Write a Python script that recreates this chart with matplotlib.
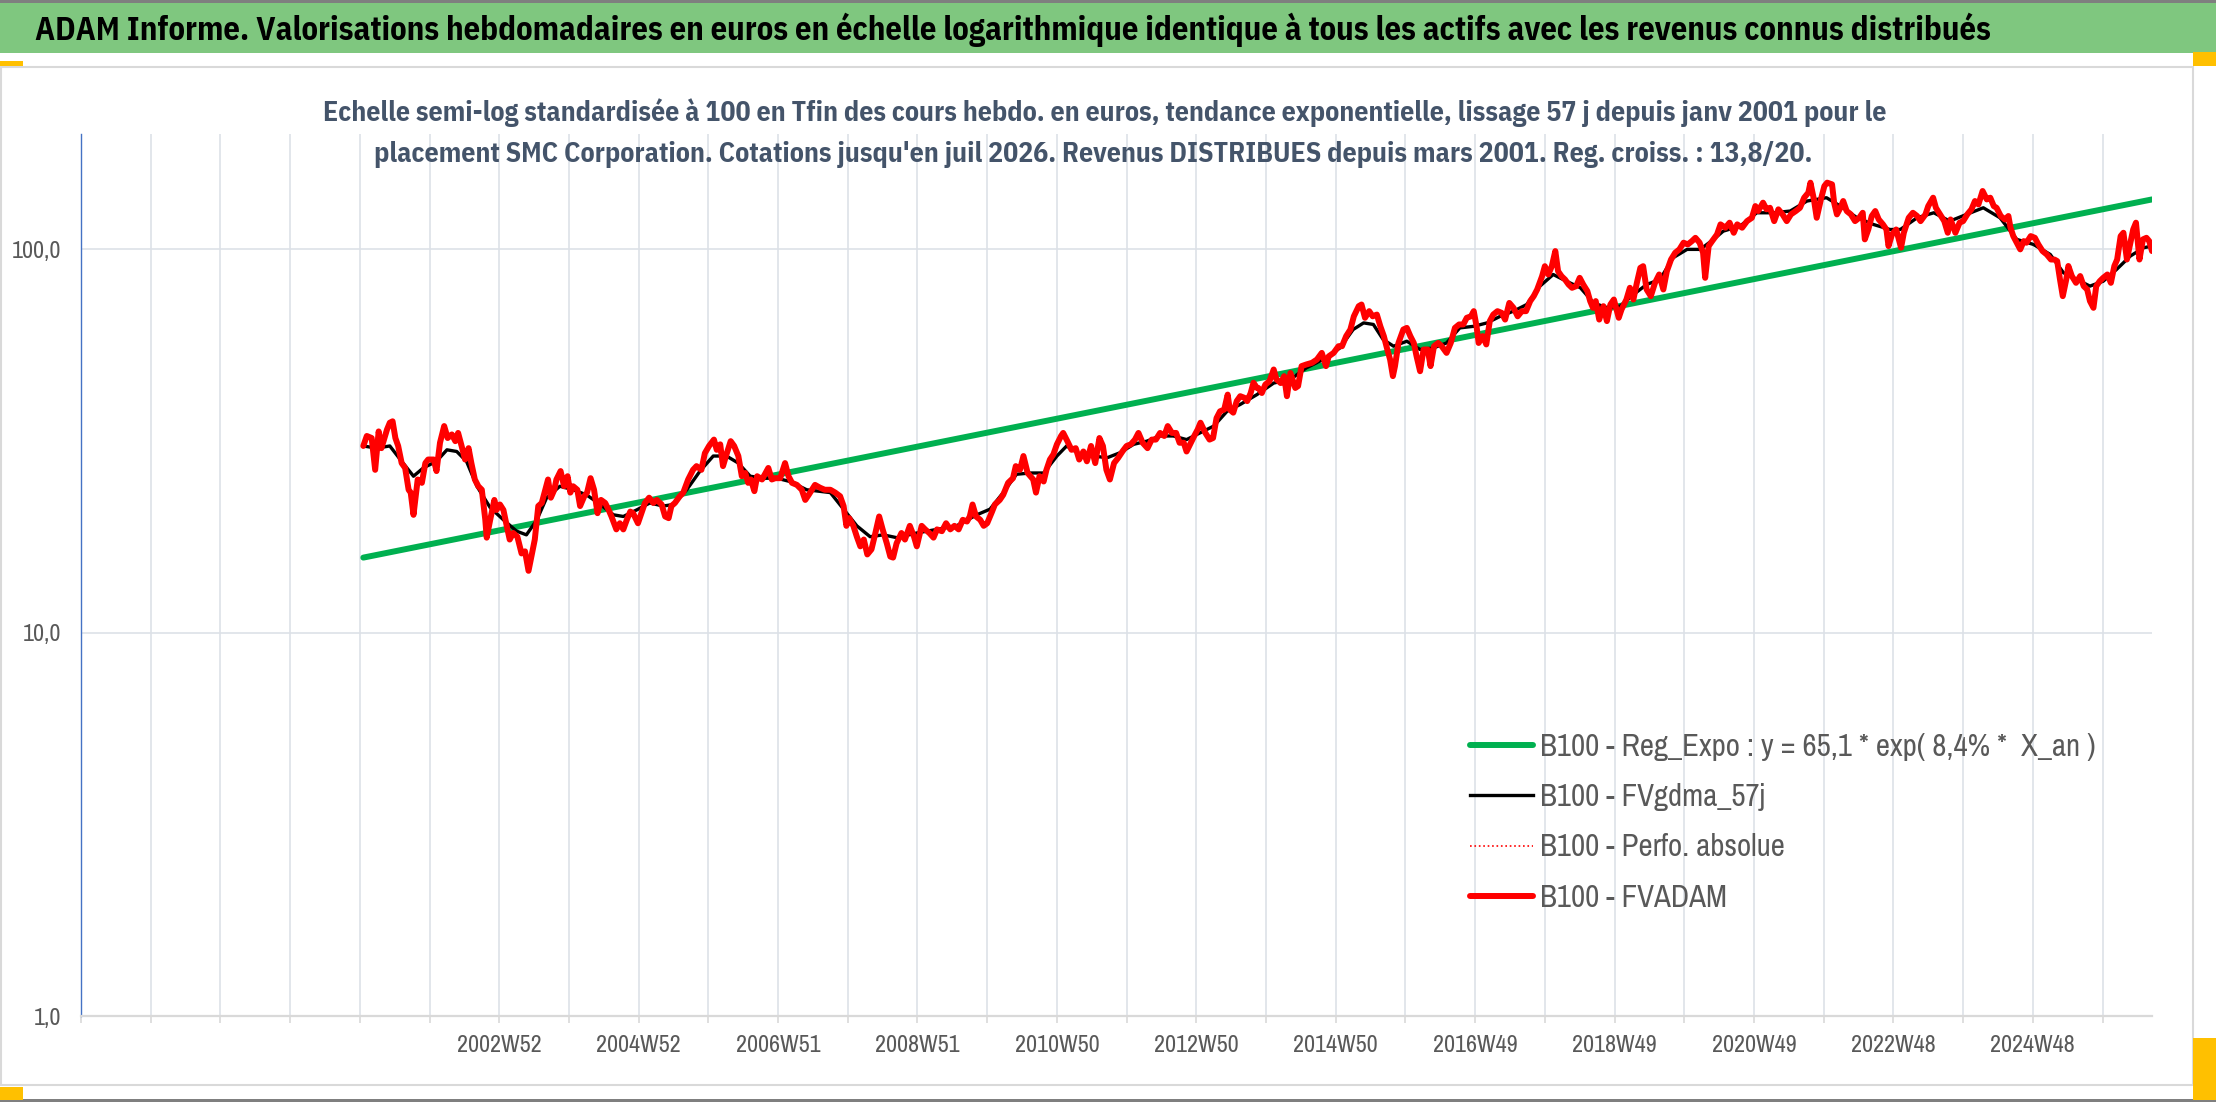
import matplotlib
matplotlib.use("Agg")
import matplotlib.pyplot as plt
import matplotlib.font_manager as fm
from matplotlib.font_manager import FontProperties
from matplotlib.patches import Rectangle
from matplotlib.ticker import FixedLocator, NullLocator

# ---------------- textes ----------------
titre = ("ADAM Informe. Valorisations hebdomadaires en euros en échelle logarithmique "
         "identique à tous les actifs avec les revenus connus distribués")
sous_titre_1 = ("Echelle semi-log standardisée à 100 en Tfin des cours hebdo. en euros, tendance "
                "exponentielle, lissage 57 j depuis janv 2001 pour le")
sous_titre_2 = ("placement SMC Corporation. Cotations jusqu'en juil 2026. Revenus DISTRIBUES "
                "depuis mars 2001. Reg. croiss. : 13,8/20.")
noms_series = ["B100 - Reg_Expo : y = 65,1 * exp( 8,4% *  X_an )",
               "B100 - FVgdma_57j",
               "B100 - Perfo. absolue",
               "B100 - FVADAM"]

# ---------------- axes ----------------
annees_grille = list(range(1997, 2027))
annees_etiq = [2003, 2005, 2007, 2009, 2011, 2013, 2015, 2017, 2019, 2021, 2023, 2025]
etiq_semaines = ['2002W52', '2004W52', '2006W51', '2008W51', '2010W50', '2012W50',
                 '2014W50', '2016W49', '2018W49', '2020W49', '2022W48', '2024W48']
annee_debut, annee_fin = 1997, 2026.71
y_valeurs = [1, 10, 100]
y_etiq = ['1,0', '10,0', '100,0']
y_max = 200

# ---------------- données ----------------
# régression exponentielle : début et fin
reg_annees = [2001.05, 2026.71]
reg_b100 = [15.7, 135.0]

# FVADAM (hebdo, base 100)
fvadam_annees = [
    2001.05, 2001.10, 2001.17, 2001.22, 2001.27, 2001.31, 2001.39, 2001.43, 2001.47, 2001.51,
    2001.55, 2001.60, 2001.65, 2001.70, 2001.73, 2001.77, 2001.83, 2001.89, 2001.94, 2001.98,
    2002.06, 2002.10, 2002.15, 2002.21, 2002.26, 2002.32, 2002.37, 2002.41, 2002.46, 2002.51,
    2002.56, 2002.60, 2002.65, 2002.70, 2002.75, 2002.80, 2002.82, 2002.87, 2002.93, 2002.96,
    2003.01, 2003.06, 2003.11, 2003.15, 2003.20, 2003.26, 2003.32, 2003.37, 2003.42, 2003.47,
    2003.51, 2003.56, 2003.61, 2003.66, 2003.70, 2003.74, 2003.79, 2003.82, 2003.88, 2003.93,
    2003.98, 2004.02, 2004.06, 2004.12, 2004.16, 2004.22, 2004.26, 2004.31, 2004.36, 2004.41,
    2004.46, 2004.52, 2004.57, 2004.61, 2004.68, 2004.73, 2004.78, 2004.83, 2004.88, 2004.92,
    2004.99, 2005.04, 2005.09, 2005.15, 2005.21, 2005.26, 2005.33, 2005.38, 2005.43, 2005.47,
    2005.52, 2005.59, 2005.64, 2005.71, 2005.78, 2005.83, 2005.90, 2005.95, 2006.01, 2006.08,
    2006.12, 2006.17, 2006.21, 2006.26, 2006.32, 2006.37, 2006.43, 2006.48, 2006.53, 2006.57,
    2006.61, 2006.66, 2006.70, 2006.77, 2006.81, 2006.86, 2006.91, 2006.96, 2007.03, 2007.10,
    2007.15, 2007.20, 2007.27, 2007.34, 2007.39, 2007.44,
    2007.53, 2007.60, 2007.67, 2007.75, 2007.82, 2007.89, 2007.94, 2007.98, 2008.02, 2008.08,
    2008.13, 2008.18, 2008.23, 2008.28, 2008.34, 2008.39, 2008.45, 2008.50, 2008.56, 2008.61,
    2008.65, 2008.70, 2008.77, 2008.82, 2008.89, 2008.95, 2008.99, 2009.06, 2009.11, 2009.17,
    2009.23, 2009.28, 2009.35, 2009.41, 2009.47, 2009.53, 2009.59, 2009.65, 2009.71, 2009.75,
    2009.79, 2009.84, 2009.90, 2009.95, 2010.00, 2010.07, 2010.11, 2010.18, 2010.23, 2010.30,
    2010.37, 2010.41, 2010.47, 2010.52, 2010.58, 2010.62, 2010.66, 2010.70, 2010.75, 2010.81,
    2010.85, 2010.90, 2010.95, 2011.00, 2011.06, 2011.09, 2011.15, 2011.21, 2011.27, 2011.32,
    2011.38, 2011.43, 2011.49, 2011.55, 2011.61, 2011.66, 2011.71, 2011.76, 2011.82, 2011.88,
    2011.94, 2012.00, 2012.06, 2012.12, 2012.17, 2012.23, 2012.30, 2012.36, 2012.42, 2012.48,
    2012.54, 2012.59, 2012.65, 2012.71, 2012.76, 2012.82, 2012.86, 2012.91, 2012.97, 2013.02,
    2013.06, 2013.13, 2013.19, 2013.24, 2013.29, 2013.34, 2013.40, 2013.45, 2013.48, 2013.53,
    2013.58, 2013.63, 2013.69, 2013.73, 2013.78, 2013.82, 2013.87,
    2013.89, 2013.94, 2013.99, 2014.05, 2014.11, 2014.15, 2014.21, 2014.26, 2014.30, 2014.35,
    2014.42, 2014.46, 2014.51, 2014.58, 2014.66, 2014.73, 2014.80, 2014.86, 2014.90, 2014.97,
    2015.04, 2015.09, 2015.15, 2015.21, 2015.26, 2015.33, 2015.37, 2015.42, 2015.48, 2015.53,
    2015.59, 2015.64, 2015.69, 2015.74, 2015.78, 2015.82, 2015.85, 2015.90, 2015.97, 2016.02,
    2016.07, 2016.12, 2016.16, 2016.21, 2016.26, 2016.32, 2016.36, 2016.41, 2016.47, 2016.52,
    2016.59, 2016.65, 2016.71, 2016.77, 2016.83, 2016.88, 2016.94, 2016.98, 2017.02, 2017.05,
    2017.11, 2017.16, 2017.21, 2017.26, 2017.32, 2017.38, 2017.43, 2017.49, 2017.55, 2017.61,
    2017.67, 2017.73, 2017.79, 2017.84, 2017.89, 2017.96, 2018.00, 2018.05, 2018.10, 2018.15,
    2018.19, 2018.24, 2018.29, 2018.34, 2018.39, 2018.45, 2018.50, 2018.55, 2018.61, 2018.65,
    2018.69, 2018.73, 2018.78, 2018.84, 2018.89, 2018.94, 2018.99, 2019.06, 2019.10, 2019.17,
    2019.22, 2019.27, 2019.32, 2019.37, 2019.41, 2019.46, 2019.52, 2019.58, 2019.64, 2019.70,
    2019.75, 2019.81, 2019.87, 2019.93, 2019.99, 2020.05, 2020.11, 2020.16, 2020.22, 2020.27,
    2020.30, 2020.35,
    2020.40, 2020.47, 2020.52, 2020.59, 2020.65, 2020.71, 2020.76, 2020.83, 2020.90, 2020.97,
    2021.02, 2021.06, 2021.13, 2021.18, 2021.23, 2021.29, 2021.35, 2021.41, 2021.47, 2021.53,
    2021.60, 2021.66, 2021.72, 2021.78, 2021.81, 2021.86, 2021.90, 2021.96, 2022.01, 2022.05,
    2022.12, 2022.15, 2022.19, 2022.24, 2022.28, 2022.33, 2022.39, 2022.45, 2022.51, 2022.56,
    2022.59, 2022.64, 2022.69, 2022.74, 2022.79, 2022.85, 2022.90, 2022.93, 2022.98, 2023.04,
    2023.11, 2023.15, 2023.22, 2023.28, 2023.34, 2023.39, 2023.46, 2023.50, 2023.57, 2023.61,
    2023.67, 2023.73, 2023.78, 2023.82, 2023.89, 2023.95, 2024.00, 2024.06, 2024.12, 2024.17,
    2024.22, 2024.28, 2024.34, 2024.39, 2024.44, 2024.48, 2024.54, 2024.60, 2024.65, 2024.68,
    2024.72, 2024.77, 2024.82, 2024.87, 2024.91, 2024.97, 2025.03, 2025.08, 2025.14, 2025.20,
    2025.26, 2025.31, 2025.35, 2025.39, 2025.43, 2025.48, 2025.51, 2025.56, 2025.62, 2025.68,
    2025.73, 2025.78, 2025.82, 2025.87, 2025.91, 2025.96, 2026.01, 2026.07, 2026.12, 2026.17,
    2026.21, 2026.26, 2026.30, 2026.35, 2026.39, 2026.44, 2026.48, 2026.53, 2026.58, 2026.63,
    2026.67, 2026.71,
]
fvadam_b100 = [
    30.7, 32.6, 32.2, 26.6, 33.5, 30.3, 33.9, 35.3, 35.6, 32.2,
    30.7, 27.7, 26.9, 23.6, 23.2, 20.3, 25.1, 24.6, 27.7, 28.3,
    28.3, 26.4, 31.3, 34.6, 32.2, 32.9, 31.6, 33.2, 30.7, 28.3,
    30.3, 27.7, 25.1, 24.1, 23.6, 19.7, 17.7, 19.7, 22.2, 20.9,
    21.6, 20.9, 18.9, 17.5, 18.2, 17.8, 16.1, 16.3, 14.5, 16.1,
    17.5, 21.4, 21.8, 23.6, 25.1, 22.5, 23.6, 25.1, 26.4, 24.1,
    25.6, 23.2, 24.1, 23.6, 21.4, 22.7, 23.2, 25.3, 23.6, 20.5,
    22.2, 21.8, 20.9, 20.1, 18.6, 19.3, 18.6, 19.7, 20.7, 20.5,
    19.3, 20.5, 21.8, 22.5, 21.8, 22.2, 21.6, 20.1, 19.9, 21.4,
    21.8, 22.7, 23.2, 25.1, 26.6, 27.2, 26.6, 29.4, 30.7, 31.9,
    30.0, 31.0, 27.2, 29.2, 31.6, 30.7, 28.9, 25.6, 26.1, 24.6,
    25.1, 23.4, 25.6, 25.1, 25.9, 26.9, 25.1, 25.3, 25.3, 27.7,
    25.6, 24.6, 24.3, 23.6, 22.2, 22.9,
    24.3, 23.9, 23.6, 23.6, 23.2, 22.7, 21.4, 19.0, 19.9, 19.0,
    17.8, 16.8, 17.5, 16.0, 16.5, 18.0, 20.1, 18.6, 17.1, 15.8,
    15.7, 17.1, 18.2, 17.5, 19.0, 17.8, 16.8, 19.0, 18.6, 18.2,
    17.7, 18.6, 18.4, 19.3, 18.6, 19.0, 18.6, 19.7, 19.5, 20.1,
    21.6, 20.1, 19.7, 19.0, 19.3, 20.7, 21.6, 22.2, 22.9, 24.6,
    25.3, 27.2, 26.6, 28.9, 26.1, 25.6, 25.1, 23.2, 25.6, 24.8,
    26.6, 28.3, 29.2, 31.0, 32.6, 33.2, 31.6, 30.0, 30.3, 28.3,
    29.7, 28.0, 30.7, 27.7, 32.2, 30.7, 26.6, 25.1, 27.7, 28.6,
    29.7, 30.7, 31.0, 31.9, 33.2, 31.3, 30.3, 31.9, 31.9, 33.2,
    32.6, 34.6, 33.2, 33.2, 31.3, 31.3, 29.7, 31.0, 32.6, 33.9,
    35.3, 33.2, 31.9, 32.2, 36.3, 37.8, 38.2, 41.8, 38.2, 37.5,
    40.2, 41.4, 41.0, 40.2, 42.2, 44.9, 43.5,
    43.5, 42.2, 44.4, 45.3, 48.6, 45.8, 44.8, 46.7, 41.4, 47.6,
    43.5, 44.0, 49.6, 50.1, 50.6, 51.6, 53.7, 49.6, 52.6, 53.7,
    55.9, 55.9, 59.4, 61.8, 66.9, 71.1, 71.8, 66.3, 69.0, 66.9,
    67.6, 63.0, 59.4, 54.8, 51.6, 46.7, 49.6, 57.0, 61.8, 62.4,
    59.4, 57.0, 52.6, 48.1, 54.8, 54.8, 49.6, 55.9, 57.0, 55.9,
    53.7, 57.0, 62.4, 63.7, 63.7, 66.3, 66.9, 69.0, 63.0, 57.0,
    59.4, 56.5, 65.0, 67.6, 69.0, 68.3, 65.6, 72.5, 70.4, 66.9,
    69.0, 69.0, 73.3, 75.5, 78.6, 85.1, 90.4, 86.0, 90.4, 99.0,
    87.7, 85.1, 83.4, 81.0, 79.4, 80.2, 84.3, 81.0, 77.8, 73.3,
    70.4, 73.3, 65.6, 71.1, 65.0, 71.8, 74.0, 66.3, 69.7, 74.0,
    79.4, 74.0, 81.8, 89.5, 90.4, 78.6, 75.5, 81.8, 86.0, 78.6,
    87.7, 94.1, 98.0, 100.0, 104.1, 103.0, 105.1, 107.2, 104.1, 98.0,
    84.3, 102.0,
    105.1, 109.4, 116.2, 113.9, 117.4, 110.5, 116.2, 113.9, 118.5, 120.9,
    129.7, 125.9, 132.4, 127.2, 128.4, 118.5, 127.2, 123.4, 118.5, 123.4,
    125.9, 128.4, 136.4, 140.6, 149.3, 135.0, 120.9, 135.0, 146.3, 149.3,
    147.8, 132.4, 123.4, 128.4, 133.7, 125.9, 123.4, 118.5, 120.9, 124.6,
    106.2, 112.7, 122.2, 125.9, 119.7, 116.2, 112.7, 102.0, 109.4, 112.7,
    101.0, 110.5, 120.9, 124.6, 122.2, 118.5, 123.4, 129.7, 136.4, 128.4,
    123.4, 118.5, 110.5, 119.7, 110.5, 117.4, 118.5, 123.4, 127.2, 133.7,
    131.0, 142.0, 135.0, 136.4, 129.7, 128.4, 122.2, 119.7, 122.2, 113.9,
    108.3, 104.1, 100.0, 105.1, 104.1, 108.3, 107.2, 103.0, 99.0, 97.0,
    94.1, 94.1, 93.2, 83.5, 75.5, 83.5, 90.5, 85.2, 81.8, 85.2,
    80.2, 78.6, 73.3, 70.4, 80.2, 82.6, 84.3, 86.0, 81.8, 90.5,
    94.1, 108.3, 110.5, 94.1, 102.0, 112.7, 117.4, 94.1, 106.2, 107.2,
    105.1, 99.0,
]

# moyenne mobile 57 j (courbe noire)
lisse_annees = [
    2001.05, 2001.24, 2001.43, 2001.60, 2001.77, 2001.91, 2002.10, 2002.25, 2002.39, 2002.53,
    2002.68, 2002.87, 2003.06, 2003.25, 2003.39, 2003.54, 2003.68, 2003.87, 2004.06, 2004.25,
    2004.45, 2004.64, 2004.78, 2004.97, 2005.16, 2005.35, 2005.50, 2005.69, 2005.88, 2006.07,
    2006.26, 2006.43, 2006.60, 2006.79, 2006.98, 2007.17, 2007.41, 2007.75, 2007.94, 2008.13,
    2008.32, 2008.51, 2008.70, 2008.99, 2009.28, 2009.56, 2009.85, 2010.04, 2010.23, 2010.42,
    2010.62, 2010.81, 2011.00, 2011.14, 2011.33, 2011.52, 2011.72, 2011.91, 2012.10, 2012.29,
    2012.48, 2012.67, 2012.86, 2013.05, 2013.25, 2013.44, 2013.63, 2013.87, 2014.11, 2014.35,
    2014.58, 2014.82, 2015.06, 2015.25, 2015.40, 2015.54, 2015.68, 2015.83, 2016.02, 2016.21,
    2016.40, 2016.59, 2016.78, 2016.98, 2017.17, 2017.36, 2017.55, 2017.74, 2017.93, 2018.12,
    2018.31, 2018.51, 2018.70, 2018.89, 2019.08, 2019.27, 2019.46, 2019.65, 2019.84, 2020.04,
    2020.23, 2020.42, 2020.56, 2020.80, 2021.04, 2021.28, 2021.52, 2021.76, 2022.04, 2022.24,
    2022.48, 2022.71, 2022.95, 2023.10, 2023.34, 2023.58, 2023.81, 2024.05, 2024.29, 2024.53,
    2024.77, 2025.01, 2025.25, 2025.44, 2025.63, 2025.82, 2026.01, 2026.20, 2026.40, 2026.59,
    2026.71,
]
lisse_b100 = [
    30.7, 30.3, 30.7, 28.0, 25.6, 26.9, 28.0, 30.0, 29.7, 28.0,
    24.1, 21.2, 19.7, 18.4, 18.0, 19.7, 22.5, 24.1, 23.6, 22.9,
    21.6, 20.3, 20.1, 20.9, 21.8, 21.4, 21.6, 23.6, 26.4, 28.9,
    28.9, 27.7, 25.6, 25.3, 25.3, 24.8, 23.6, 23.2, 21.0, 19.0,
    17.8, 18.0, 17.7, 18.2, 18.6, 19.0, 20.3, 21.0, 23.2, 25.9,
    26.1, 26.1, 28.9, 30.7, 29.2, 28.9, 28.6, 29.5, 31.0, 31.6,
    32.6, 32.6, 31.9, 33.2, 34.6, 37.8, 39.4, 41.8, 44.8, 45.8,
    49.1, 51.6, 55.3, 61.8, 64.3, 63.7, 58.2, 55.9, 57.6, 54.8,
    55.3, 57.0, 62.4, 63.0, 64.3, 66.9, 69.0, 71.8, 80.2, 86.0,
    82.6, 79.4, 72.5, 70.4, 71.1, 76.2, 81.0, 83.4, 95.1, 100.0,
    100.0, 106.2, 111.6, 115.0, 124.6, 124.6, 125.9, 133.7, 136.4, 129.7,
    120.9, 116.2, 112.7, 112.7, 120.9, 124.6, 118.5, 123.4, 128.4, 120.9,
    106.2, 103.0, 97.0, 86.9, 83.5, 80.2, 82.6, 88.6, 96.1, 101.0,
    102.0,
]

# ---------------- figure ----------------
W, H = 2216, 1102
fig = plt.figure(figsize=(W / 100, H / 100), dpi=100)
rendu = fig.canvas.get_renderer()


def poids(f):
    w = f.weight
    return fm.weight_dict.get(w, 400) if isinstance(w, str) else int(w)


def largeur_em(fp, s):
    # largeur du texte en em (72 pt = 100 px)
    t = fig.text(0, 0, s, fontproperties=fp, fontsize=72)
    w = t.get_window_extent(rendu).width / 100
    t.remove()
    return w


def famille_ok(f):
    n = f.name
    if f.style != 'normal':
        return False
    if not ('Narrow' in n or 'Condensed' in n or 'condensed' in str(f.stretch)):
        return False
    if any(k in n for k in ('Serif', 'Mono', 'Math', 'Symbol', 'Emoji')):
        return False
    base = n.split(' Condensed')[0].split(' Narrow')[0]
    if base.startswith('Noto') and base not in ('Noto Sans', 'Noto Sans Display'):
        return False
    return True


# police étroite (l'original est en Calibri compressé)
entrees = [f for f in fm.fontManager.ttflist if famille_ok(f)]
reguliers = [f for f in entrees if 350 <= poids(f) <= 500]
gras = [f for f in entrees if 600 <= poids(f) <= 800]
if reguliers and gras:
    f_reg = min(reguliers, key=lambda f: abs(largeur_em(FontProperties(fname=f.fname), noms_series[0]) - 18))
    meme = [f for f in gras if f.name == f_reg.name]
    if meme:
        f_gras = min(meme, key=lambda f: abs(poids(f) - 700))
    else:
        f_gras = min(gras, key=lambda f: abs(largeur_em(FontProperties(fname=f.fname), titre) - 60))
    fp_reg = FontProperties(fname=f_reg.fname)
    fp_gras = FontProperties(fname=f_gras.fname)
else:
    fp_reg = FontProperties(family='Liberation Sans')
    fp_gras = FontProperties(family='Liberation Sans', weight='bold')


def rect_px(x0, y0, x1, y1, **kw):
    # rectangle en pixels, origine en haut à gauche
    fig.add_artist(Rectangle((x0 / W, 1 - y1 / H), (x1 - x0) / W, (y1 - y0) / H,
                             transform=fig.transFigure, **kw))


def taille_pour(texte, largeur_px, fp):
    # taille de police donnant la largeur voulue (et hauteur de boîte correspondante)
    t = fig.text(0, 0, texte, fontproperties=fp, fontsize=20)
    bb = t.get_window_extent(rendu)
    t.remove()
    return 20 * largeur_px / bb.width, bb.height * largeur_px / bb.width


def ajuste(t, largeur_px):
    for _ in range(2):
        w = t.get_window_extent(rendu).width
        t.set_fontsize(t.get_fontsize() * largeur_px / w)


# bandeau titre et cadre
rect_px(0, 0, W, 3, color='#7F7F7F', lw=0)
rect_px(0, 3, W, 53, color='#7FC77F', lw=0)
rect_px(1, 67, 2193, 1085, fill=False, edgecolor='#D9D9D9', lw=1.5)
rect_px(0, 1099, W, H, color='#7F7F7F', lw=0)
# poignées oranges
for x0, y0, x1, y1 in [(0, 61, 23, 66), (2193, 52, W, 66), (0, 1087, 23, 1100), (2193, 1038, W, 1100)]:
    rect_px(x0, y0, x1, y1, color='#FFC000', lw=0)

t_titre = fig.text(35 / W, 1 - 40 / H, titre, fontproperties=fp_gras, fontsize=22,
                   color='black', ha='left', va='baseline')
ajuste(t_titre, 1953)
t_st1 = fig.text(1105 / W, 1 - 121 / H, sous_titre_1, fontproperties=fp_gras, fontsize=18,
                 color='#44546A', ha='center', va='baseline', zorder=10)
ajuste(t_st1, 1567)
t_st2 = fig.text(1093 / W, 1 - 162 / H, sous_titre_2, fontproperties=fp_gras, fontsize=18,
                 color='#44546A', ha='center', va='baseline', zorder=10)
ajuste(t_st2, 1444)

taille_ticks, _ = taille_pour('2002W52', 85, fp_reg)
taille_leg, haut_leg = taille_pour(noms_series[0], 556, fp_reg)

ax = fig.add_axes([81 / W, 1 - 1016 / H, (2152 - 81) / W, (1016 - 134) / H])
ax.patch.set_alpha(0)
ax.set_yscale('log')
ax.set_ylim(y_valeurs[0], y_max)
ax.set_xlim(annee_debut, annee_fin)

l_reg, = ax.plot(reg_annees, reg_b100, color='#00B050', lw=4.3, solid_capstyle='round', zorder=3)
l_lis, = ax.plot(lisse_annees, lisse_b100, color='black', lw=2.4, zorder=4)
l_abs, = ax.plot(fvadam_annees, fvadam_b100, color='red', lw=1.2, ls=':', zorder=4.5)
l_fva, = ax.plot(fvadam_annees, fvadam_b100, color='#FF0000', lw=4.3,
                 solid_joinstyle='round', solid_capstyle='round', zorder=5)

# axes, grilles
etiq = dict(zip(annees_etiq, etiq_semaines))
ax.xaxis.set_major_locator(FixedLocator(annees_grille))
ax.set_xticklabels([etiq.get(a, '') for a in annees_grille], fontproperties=fp_reg,
                   fontsize=taille_ticks, color='#595959')
ax.yaxis.set_major_locator(FixedLocator(y_valeurs))
ax.yaxis.set_minor_locator(NullLocator())
ax.set_yticklabels(y_etiq, fontproperties=fp_reg, fontsize=taille_ticks, color='#595959')
ax.grid(True, which='major', color='#DDE1E7', lw=1.2)
ax.set_axisbelow(True)
ax.tick_params(axis='x', length=5, width=1.2, color='#D9D9D9', pad=9)
ax.tick_params(axis='y', length=0, pad=14)
for s in ['top', 'right']:
    ax.spines[s].set_visible(False)
ax.spines['left'].set_color('#4472C4')
ax.spines['left'].set_linewidth(1)
ax.spines['bottom'].set_color('#D9D9D9')
ax.spines['bottom'].set_linewidth(1.6)

# légende : pas de 50 px entre lignes, première ligne centrée à y = 747 px
pas_pt = 50 * 72 / 100
haut_pt = haut_leg * 72 / 100
prop_leg = fp_reg.copy()
prop_leg.set_size(taille_leg)
ax.legend([l_reg, l_lis, l_abs, l_fva], noms_series, loc='upper left',
          bbox_to_anchor=(1470 / W, 1 - (747 - haut_leg / 2) / H), bbox_transform=fig.transFigure,
          frameon=False, borderpad=0, borderaxespad=0,
          handlelength=45.4 / taille_leg, handletextpad=5 / taille_leg,
          labelspacing=(pas_pt - haut_pt) / taille_leg, prop=prop_leg, labelcolor='#595959')

fig.savefig('out.png', dpi=100)
